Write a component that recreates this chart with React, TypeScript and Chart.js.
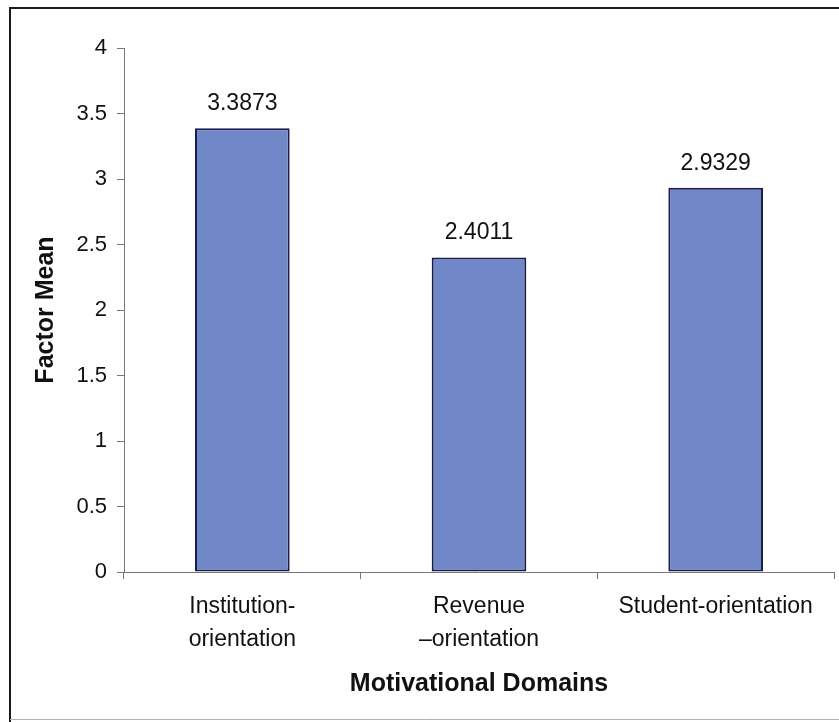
import React, { useEffect, useRef } from "react";
import { Chart, registerables } from "chart.js";

Chart.register(...registerables);

const categories: (string | string[])[] = [
  ["Institution-", "orientation"],
  ["Revenue", "\u2013orientation"],
  "Student-orientation",
];
const factorMeans: number[] = [3.3873, 2.4011, 2.9329];
const valueLabels: string[] = ["3.3873", "2.4011", "2.9329"];

const FONT = '"Liberation Sans", Arial, sans-serif';
const TEXT = "#111111";

// White page with the figure frame (top, left, faint bottom rule)
const framePlugin = {
  id: "frame",
  beforeDraw(chart: Chart) {
    const { ctx, width, height } = chart;
    ctx.save();
    ctx.fillStyle = "#ffffff";
    ctx.fillRect(0, 0, width, height);
    ctx.strokeStyle = "#1a1a1a";
    ctx.lineWidth = 2;
    ctx.beginPath();
    ctx.moveTo(10, height);
    ctx.lineTo(10, 8);
    ctx.lineTo(width, 8);
    ctx.stroke();
    ctx.strokeStyle = "#b0b0b0";
    ctx.lineWidth = 1;
    ctx.beginPath();
    ctx.moveTo(10, 719.5);
    ctx.lineTo(width, 719.5);
    ctx.stroke();
    ctx.restore();
  },
};

// Value printed above each bar
const valueLabelPlugin = {
  id: "valueLabels",
  afterDatasetsDraw(chart: Chart) {
    const { ctx } = chart;
    const meta = chart.getDatasetMeta(0);
    ctx.save();
    ctx.font = `23px ${FONT}`;
    ctx.fillStyle = TEXT;
    ctx.textAlign = "center";
    ctx.textBaseline = "alphabetic";
    meta.data.forEach((bar: any, i: number) => {
      ctx.fillText(valueLabels[i], bar.x, bar.y - 18);
    });
    ctx.restore();
  },
};

export default function App() {
  const canvasRef = useRef<HTMLCanvasElement | null>(null);

  useEffect(() => {
    if (!canvasRef.current) return;
    const chart = new Chart(canvasRef.current, {
      type: "bar",
      data: {
        labels: categories,
        datasets: [
          {
            data: factorMeans,
            backgroundColor: "#7088c8",
            borderColor: "#1c1c4a",
            borderWidth: 2,
            borderSkipped: false,
            categoryPercentage: 1,
            barPercentage: 0.4,
          },
        ],
      },
      options: {
        animation: false,
        responsive: false,
        maintainAspectRatio: false,
        layout: { padding: { top: 48, right: 5, left: 0, bottom: 0 } },
        plugins: {
          legend: { display: false },
          tooltip: { enabled: false },
        },
        scales: {
          x: {
            offset: true,
            grid: {
              offset: true,
              drawOnChartArea: false,
              drawTicks: true,
              tickLength: 7,
              color: "#777777",
            },
            border: { color: "#777777", width: 1 },
            ticks: {
              color: TEXT,
              padding: 11,
              maxRotation: 0,
              autoSkip: false,
              font: { family: FONT, size: 23, lineHeight: 1.43 },
            },
            title: {
              display: true,
              text: "Motivational Domains",
              color: TEXT,
              font: { family: FONT, size: 25, weight: "bold" },
              padding: { top: 0, bottom: 23 },
            },
            afterFit(scale: any) {
              scale.height = 150;
            },
          },
          y: {
            min: 0,
            max: 4,
            grid: {
              drawOnChartArea: false,
              drawTicks: true,
              tickLength: 7,
              color: "#777777",
            },
            border: { color: "#777777", width: 1 },
            ticks: {
              stepSize: 0.5,
              color: TEXT,
              padding: 10,
              font: { family: FONT, size: 22 },
              callback: (value: any) => String(Number(value)),
            },
            title: {
              display: true,
              text: "Factor Mean",
              color: TEXT,
              font: { family: FONT, size: 25, weight: "bold" },
              padding: { top: 31, bottom: 0 },
            },
            afterFit(scale: any) {
              scale.width = 124;
            },
          },
        },
      },
      plugins: [framePlugin, valueLabelPlugin],
    });
    return () => chart.destroy();
  }, []);

  return (
    <div style={{ position: "fixed", left: 0, top: 0, width: 839, height: 722, background: "#fff" }}>
      <canvas ref={canvasRef} width={839} height={722} style={{ display: "block", width: 839, height: 722 }} />
    </div>
  );
}
